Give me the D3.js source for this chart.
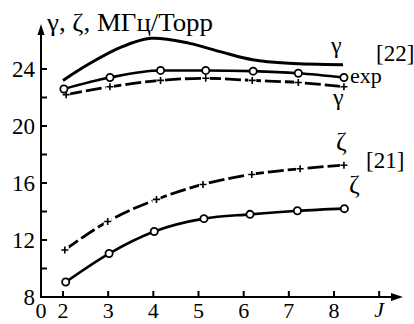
<!DOCTYPE html>
<html>
<head>
<meta charset="utf-8">
<script src="https://cdn.jsdelivr.net/npm/d3@7"></script>
<style>
  body { margin: 0; background: #fff; }
  svg text { font-family: "Liberation Serif", "Times New Roman", Times, "DejaVu Serif", serif; fill: #000; }
</style>
</head>
<body>
<div id="chart"></div>
<script>
// data
const jExpGamma = [2.02, 3.04, 4.16, 5.16, 6.21, 7.21, 8.22];
const expGamma  = [22.6, 23.4, 23.9, 23.9, 23.85, 23.7, 23.4];
const jThGamma  = [2.07, 3.04, 4.16, 5.16, 6.19, 7.21, 8.22];
const thGamma   = [22.2, 22.75, 23.2, 23.35, 23.2, 23.05, 22.75];
const jRef22    = [2.0, 2.6, 3.3, 3.95, 4.8, 5.5, 6.2, 7.0, 8.2];
const gamma22   = [23.2, 24.4, 25.55, 26.15, 25.8, 25.2, 24.65, 24.4, 24.3];
const jThZeta   = [2.04, 2.99, 4.07, 5.1, 6.18, 7.25, 8.22];
const thZeta    = [11.3, 13.3, 14.85, 15.9, 16.6, 17.0, 17.25];
const jExpZeta  = [2.06, 3.02, 4.02, 5.12, 6.14, 7.19, 8.23];
const expZeta   = [9.05, 11.05, 12.6, 13.5, 13.8, 14.05, 14.2];

const xTicks = [2, 3, 4, 5, 6, 7, 8, 9];
const yTicks = [10, 12, 14, 16, 18, 20, 22, 24];
const yLabels = [8, 12, 16, 20, 24];

var w = 414, h = 324;
var svg = d3.select("#chart").append("svg").attr("width", w).attr("height", h);

var x0 = 41, y0 = 297;
var x = d3.scaleLinear().domain([2, 8]).range([63, 334]);
var y = d3.scaleLinear().domain([8, 24]).range([y0, 69]);

// axes
svg.append("line").attr("x1", x0).attr("y1", y0 + 1).attr("x2", x0).attr("y2", 32)
   .attr("stroke", "#000").attr("stroke-width", 2);
svg.append("path").attr("d", `M${x0 - 3.5},35 L${x0},24 L${x0 + 3.5},35 Z`).attr("fill", "#000");
svg.append("line").attr("x1", x0 - 1).attr("y1", y0).attr("x2", 396).attr("y2", y0)
   .attr("stroke", "#000").attr("stroke-width", 2);
svg.append("path").attr("d", `M391,${y0 - 4} L403,${y0} L391,${y0 + 4} Z`).attr("fill", "#000");

svg.selectAll(".xt").data(xTicks).enter().append("line")
   .attr("x1", d => x(d)).attr("x2", d => x(d)).attr("y1", y0).attr("y2", y0 - 6)
   .attr("stroke", "#000").attr("stroke-width", 2);
svg.selectAll(".yt").data(yTicks).enter().append("line")
   .attr("x1", x0).attr("x2", x0 + 6).attr("y1", d => y(d)).attr("y2", d => y(d))
   .attr("stroke", "#000").attr("stroke-width", 2);

svg.selectAll(".xl").data(xTicks.slice(0, 7)).enter().append("text")
   .attr("x", d => x(d)).attr("y", 318).attr("text-anchor", "middle")
   .style("font-size", "22px").text(d => d);
svg.append("text").attr("x", x0).attr("y", 318).attr("text-anchor", "middle")
   .style("font-size", "22px").text("0");
svg.append("text").attr("x", x(9)).attr("y", 317).attr("text-anchor", "middle")
   .style("font-size", "22px").style("font-style", "italic").text("J");
svg.selectAll(".yl").data(yLabels).enter().append("text")
   .attr("x", 35).attr("y", d => y(d) + 7.5).attr("text-anchor", "end")
   .style("font-size", "23px").text(d => d);

svg.append("text").attr("x", 47).attr("y", 31).style("font-size", "25px")
   .attr("textLength", 166).attr("lengthAdjust", "spacingAndGlyphs")
   .text("γ, ζ, МГц/Торр");

function pts(js, vs) { return js.map((j, i) => [x(j), y(vs[i])]); }
var line = d3.line().curve(d3.curveMonotoneX);
var smooth = d3.line().curve(d3.curveCatmullRom.alpha(0.5));

// [22] gamma
svg.append("path").attr("d", smooth(pts(jRef22, gamma22))).attr("fill", "none")
   .attr("stroke", "#000").attr("stroke-width", 3);

// theory (crosses, dashed)
[[jThGamma, thGamma], [jThZeta, thZeta]].forEach(function(s) {
  var p = pts(s[0], s[1]);
  svg.append("path").attr("d", line(p)).attr("fill", "none")
     .attr("stroke", "#000").attr("stroke-width", 2.8).attr("stroke-dasharray", "16,4");
  svg.selectAll(null).data(p).enter().append("rect")
     .attr("x", d => d[0] - 4).attr("y", d => d[1] - 4).attr("width", 8).attr("height", 8)
     .attr("fill", "#fff");
  svg.selectAll(null).data(p).enter().append("path")
     .attr("d", d => `M${d[0] - 3.5},${d[1]} H${d[0] + 3.5} M${d[0]},${d[1] - 3.5} V${d[1] + 3.5}`)
     .attr("stroke", "#000").attr("stroke-width", 1.6);
});

// experiment (circles, solid)
[[jExpGamma, expGamma], [jExpZeta, expZeta]].forEach(function(s) {
  var p = pts(s[0], s[1]);
  svg.append("path").attr("d", line(p)).attr("fill", "none")
     .attr("stroke", "#000").attr("stroke-width", 2.6);
  svg.selectAll(null).data(p).enter().append("circle")
     .attr("cx", d => d[0]).attr("cy", d => d[1]).attr("r", 3.6)
     .attr("fill", "#fff").attr("stroke", "#000").attr("stroke-width", 1.8);
});

// labels
svg.append("text").attr("x", 331).attr("y", 53).style("font-size", "24px").text("γ");
svg.append("text").attr("x", 376).attr("y", 61).style("font-size", "23px").text("[22]");
svg.append("text").attr("x", 350).attr("y", 83).style("font-size", "22px").text("exp");
svg.append("text").attr("x", 333).attr("y", 105).style("font-size", "24px").text("γ");
svg.append("text").attr("x", 336).attr("y", 150).style("font-size", "26px").text("ζ");
svg.append("text").attr("x", 366).attr("y", 168).style("font-size", "23px").text("[21]");
svg.append("text").attr("x", 349).attr("y", 193).style("font-size", "26px").text("ζ");
</script>
</body>
</html>
